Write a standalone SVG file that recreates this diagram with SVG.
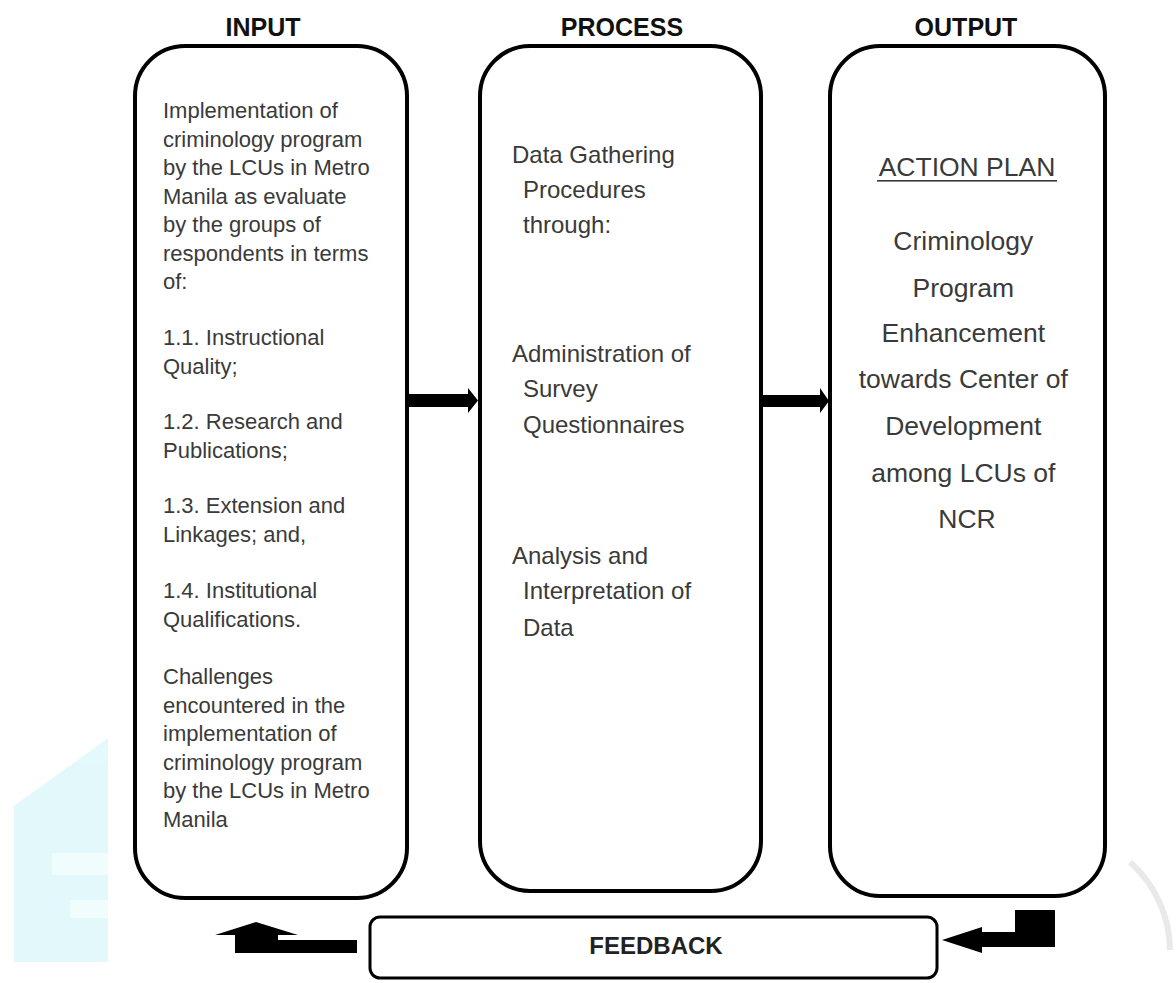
<svg xmlns="http://www.w3.org/2000/svg" width="1176" height="983" viewBox="0 0 1176 983">
<style>
.box{fill:#fff;stroke:#000;stroke-width:4}
.head{font-family:"Liberation Sans",Arial,sans-serif;font-weight:bold;font-size:25px;fill:#111;text-anchor:middle}
.t{font-family:"Liberation Sans",Arial,sans-serif;fill:#3a3a3a}
.in{font-size:22px}
.pr{font-size:24px}
.out{font-size:26.5px;text-anchor:middle}
.arrow{fill:#000}
</style>
<rect width="1176" height="983" fill="#fff"/>
<g id="watermark" opacity="0.8">
<polygon points="14,806 108,738 108,962 14,962" fill="#dcf7fb"/>
<rect x="52" y="853" width="56" height="22" fill="#eefcfd"/>
<rect x="70" y="900" width="38" height="18" fill="#eefcfd"/>
<path d="M1130,862 A120,120 0 0 1 1170,950" fill="none" stroke="#e4e4e4" stroke-width="6"/>
</g>
<g id="input">
<text class="head" x="263" y="36">INPUT</text>
<rect class="box" x="135" y="46" width="272" height="852" rx="50" ry="50"/>
<text class="t in" x="163">
<tspan x="163" y="118">Implementation of</tspan>
<tspan x="163" y="146.5">criminology program</tspan>
<tspan x="163" y="175">by the LCUs in Metro</tspan>
<tspan x="163" y="203.5">Manila as evaluate</tspan>
<tspan x="163" y="232">by the groups of</tspan>
<tspan x="163" y="260.5">respondents in terms</tspan>
<tspan x="163" y="289">of:</tspan>
<tspan x="163" y="345">1.1. Instructional</tspan>
<tspan x="163" y="373.5">Quality;</tspan>
<tspan x="163" y="429">1.2. Research and</tspan>
<tspan x="163" y="457.5">Publications;</tspan>
<tspan x="163" y="513">1.3. Extension and</tspan>
<tspan x="163" y="541.5">Linkages; and,</tspan>
<tspan x="163" y="598">1.4. Institutional</tspan>
<tspan x="163" y="627">Qualifications.</tspan>
<tspan x="163" y="684">Challenges</tspan>
<tspan x="163" y="712.5">encountered in the</tspan>
<tspan x="163" y="741">implementation of</tspan>
<tspan x="163" y="769.5">criminology program</tspan>
<tspan x="163" y="798">by the LCUs in Metro</tspan>
<tspan x="163" y="826.5">Manila</tspan>
</text>
</g>
<g id="process">
<text class="head" x="622" y="36">PROCESS</text>
<rect class="box" x="480" y="46" width="281" height="845" rx="50" ry="50"/>
<text class="t pr">
<tspan x="512" y="163">Data Gathering</tspan>
<tspan x="523" y="198">Procedures</tspan>
<tspan x="523" y="233">through:</tspan>
<tspan x="512" y="362">Administration of</tspan>
<tspan x="523" y="397">Survey</tspan>
<tspan x="523" y="433">Questionnaires</tspan>
<tspan x="512" y="564">Analysis and</tspan>
<tspan x="523" y="599">Interpretation of</tspan>
<tspan x="523" y="636">Data</tspan>
</text>
</g>
<g id="output">
<text class="head" x="966" y="36">OUTPUT</text>
<rect class="box" x="830" y="46" width="275" height="850" rx="50" ry="50"/>
<text class="t out" x="967" y="176">ACTION PLAN</text>
<rect x="877" y="180" width="180" height="1.6" fill="#3a3a3a"/>
<text class="t out">
<tspan x="967" y="250">Criminology</tspan>
<tspan x="967" y="297">Program</tspan>
<tspan x="967" y="342">Enhancement</tspan>
<tspan x="967" y="388">towards Center of</tspan>
<tspan x="967" y="435">Development</tspan>
<tspan x="967" y="482">among LCUs of</tspan>
<tspan x="967" y="528">NCR</tspan>
</text>
</g>
<g id="feedback">
<rect x="370" y="917" width="567" height="61" rx="10" ry="10" fill="#fff" stroke="#000" stroke-width="3"/>
<text class="head" x="656" y="954" style="font-size:24px;fill:#222">FEEDBACK</text>
</g>
<g id="connectors" class="arrow">
<polygon points="409,394 468,394 468,388 478,400.5 468,413 468,407 409,407"/>
<polygon points="762,395 820,395 820,388 829,401 820,413 820,407 762,407"/>
<polygon points="357,940 278,940 278,935 298,935 256,922 215,935 235,935 235,953 357,953"/>
<polygon points="1055,910 1015,910 1015,932 982,932 982,927 942,940 982,953 982,947 1055,947"/>
</g>
</svg>
